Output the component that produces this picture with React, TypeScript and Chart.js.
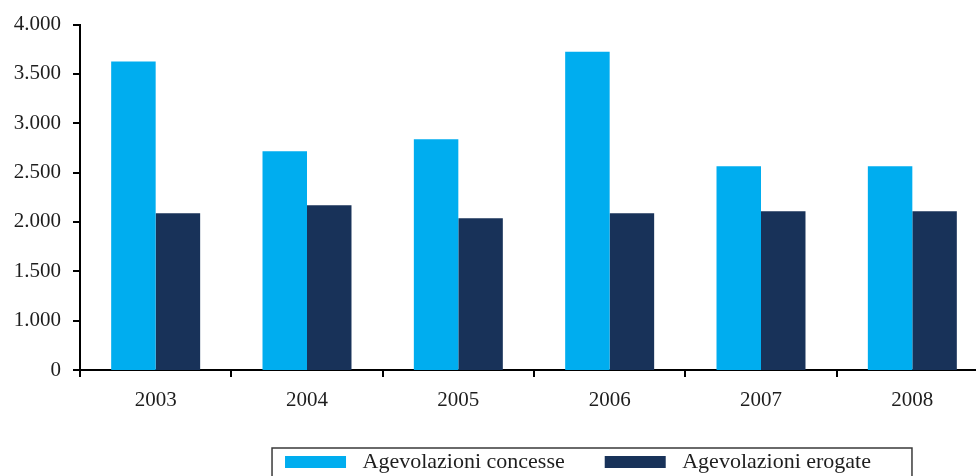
import React, { useEffect, useRef } from "react";
import { Chart, registerables } from "chart.js";

Chart.register(...registerables);

const categories = ["2003", "2004", "2005", "2006", "2007", "2008"];
const concesse = [3625, 2716, 2838, 3726, 2564, 2564];
const erogate = [2088, 2169, 2038, 2088, 2108, 2108];
const seriesNames = ["Agevolazioni concesse", "Agevolazioni erogate"];
const yTickLabels = ["0", "1.000", "1.500", "2.000", "2.500", "3.000", "3.500", "4.000"];

const FONT = "'Liberation Serif', 'Times New Roman', serif";

const legendPlugin = {
  id: "legendFrame",
  afterLayout(chart: any) {
    const lg = chart.legend;
    if (!lg) return;
    const target = 578;
    const dx = target - (lg.left + lg.right) / 2;
    lg.left += dx;
    lg.right += dx;
  },
  afterDraw(chart: any) {
    const lg = chart.legend;
    if (!lg || !lg.legendHitBoxes || !lg.legendHitBoxes.length) return;
    const boxes = lg.legendHitBoxes;
    const first = boxes[0];
    const last = boxes[boxes.length - 1];
    const cy = first.top + first.height / 2;
    const x0 = first.left - 13;
    const x1 = last.left + last.width + 41;
    const ctx = chart.ctx;
    ctx.save();
    ctx.strokeStyle = "#3a3a3a";
    ctx.lineWidth = 1.5;
    ctx.strokeRect(x0, cy - 14, x1 - x0, 80);
    ctx.restore();
  },
};

export default function App() {
  const ref = useRef<HTMLCanvasElement | null>(null);
  useEffect(() => {
    if (!ref.current) return;
    const chart = new Chart(ref.current, {
      type: "bar",
      data: {
        labels: categories,
        datasets: [
          {
            label: seriesNames[0],
            data: concesse,
            backgroundColor: "#00ADEF",
            borderWidth: 0,
            categoryPercentage: 0.588,
            barPercentage: 1,
          },
          {
            label: seriesNames[1],
            data: erogate,
            backgroundColor: "#183259",
            borderWidth: 0,
            categoryPercentage: 0.588,
            barPercentage: 1,
          },
        ],
      },
      options: {
        responsive: false,
        animation: false,
        devicePixelRatio: 1,
        layout: { padding: { top: 24, right: 12, left: 0, bottom: 0 } },
        plugins: {
          tooltip: { enabled: false },
          legend: {
            position: "bottom",
            labels: {
              boxWidth: 61,
              boxHeight: 12,
              padding: 40,
              color: "#1e1e1e",
              font: { family: FONT, size: 22 },
              generateLabels: (c: any) => {
                const items = Chart.defaults.plugins.legend.labels.generateLabels(c);
                return items.map((it: any) => ({ ...it, text: " " + it.text, lineWidth: 0 }));
              },
            },
          },
        },
        scales: {
          x: {
            grid: {
              display: true,
              drawOnChartArea: false,
              drawTicks: true,
              tickLength: 7,
              color: "#000",
              lineWidth: 2,
            },
            border: { display: true, color: "#000", width: 2 },
            ticks: {
              color: "#1e1e1e",
              padding: 11,
              font: { family: FONT, size: 21 },
              maxRotation: 0,
            },
            afterFit: (s: any) => {
              s.height = 41;
            },
          },
          y: {
            min: 500,
            max: 4000,
            grid: {
              display: true,
              drawOnChartArea: false,
              drawTicks: true,
              tickLength: 7,
              color: "#000",
              lineWidth: 2,
            },
            border: { display: true, color: "#000", width: 2 },
            ticks: {
              stepSize: 500,
              color: "#1e1e1e",
              padding: 12,
              font: { family: FONT, size: 21 },
              callback: (_v: any, i: number) => yTickLabels[i],
            },
            afterFit: (s: any) => {
              s.width = 80;
            },
          },
        },
      },
      plugins: [legendPlugin],
    });
    return () => chart.destroy();
  }, []);
  return (
    <div
      style={{
        position: "fixed",
        left: 0,
        top: 0,
        width: 976,
        height: 476,
        overflow: "hidden",
        background: "#fff",
      }}
    >
      <canvas ref={ref} width={1000} height={483} style={{ display: "block" }} />
    </div>
  );
}
